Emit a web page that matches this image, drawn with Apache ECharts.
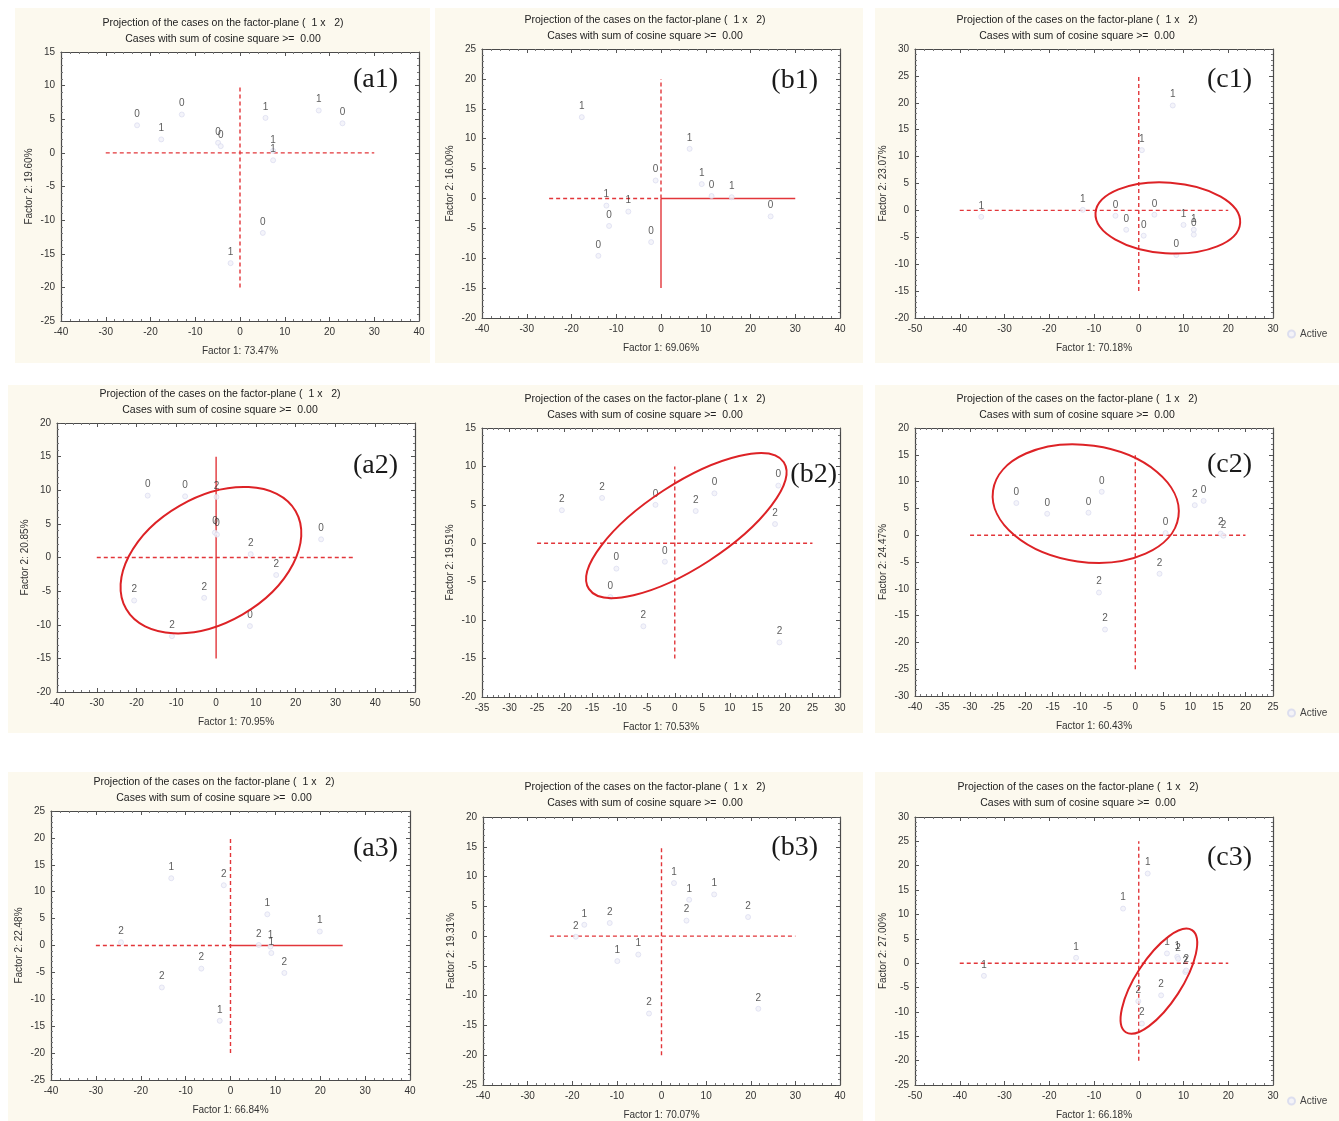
<!DOCTYPE html>
<html><head><meta charset="utf-8">
<script src="https://cdn.jsdelivr.net/npm/echarts@6/dist/echarts.min.js"></script>
<style>html,body{margin:0;padding:0;background:#fff}#c{width:1339px;height:1121px}</style>
</head><body><div id="c"></div><script>
// ---------- DATA (x, y, case label) ----------
const a1Pts = [[-23.0,4.1,'0'],[-17.6,2.0,'1'],[-13.0,5.7,'0'],[-4.9,1.5,'0'],[-4.3,1.0,'0'],[5.7,5.2,'1'],[17.6,6.3,'1'],[22.9,4.4,'0'],[7.4,0.3,'1'],[7.4,-1.1,'1'],[5.1,-11.9,'0'],[-2.1,-16.4,'1']];
const b1Pts = [[-17.7,13.6,'1'],[6.4,8.3,'1'],[-1.2,3.0,'0'],[9.1,2.4,'1'],[11.3,0.4,'0'],[15.8,0.2,'1'],[-12.2,-1.2,'1'],[-7.3,-2.2,'1'],[-11.6,-4.6,'0'],[-2.2,-7.3,'0'],[-14.0,-9.6,'0'],[24.5,-3.0,'0']];
const c1Pts = [[-35.2,-1.2,'1'],[-12.5,0.1,'1'],[-5.2,-1.0,'0'],[-2.8,-3.6,'0'],[1.1,-4.7,'0'],[3.5,-0.8,'0'],[10.0,-2.7,'1'],[12.3,-3.6,'1'],[12.3,-4.5,'0'],[8.4,-8.3,'0'],[7.6,19.5,'1'],[0.7,11.2,'1']];
const a2Pts = [[-17.2,9.2,'0'],[-7.8,9.1,'0'],[0.1,9.0,'2'],[-0.3,3.7,'0'],[0.2,3.4,'0'],[26.4,2.7,'0'],[8.7,0.5,'2'],[15.1,-2.6,'2'],[-20.6,-6.4,'2'],[-3.0,-6.0,'2'],[8.5,-10.2,'0'],[-11.1,-11.7,'2']];
const b2Pts = [[-20.5,4.3,'2'],[-13.2,5.9,'2'],[-3.5,5.0,'0'],[3.8,4.2,'2'],[7.2,6.5,'0'],[18.8,7.5,'0'],[18.2,2.5,'2'],[-1.8,-2.4,'0'],[-10.6,-3.3,'0'],[-11.7,-7.0,'0'],[-5.7,-10.8,'2'],[19.0,-12.9,'2']];
const c2Pts = [[-21.6,6.0,'0'],[-16.0,4.0,'0'],[-8.5,4.2,'0'],[-6.1,8.1,'0'],[5.5,0.4,'0'],[10.8,5.6,'2'],[12.4,6.4,'0'],[15.5,0.3,'2'],[16.0,-0.1,'2'],[4.4,-7.2,'2'],[-6.6,-10.7,'2'],[-5.5,-17.6,'2']];
const a3Pts = [[-13.2,12.5,'1'],[-1.5,11.2,'2'],[8.2,5.8,'1'],[19.9,2.6,'1'],[-24.4,0.6,'2'],[6.3,0.1,'2'],[8.9,-0.2,'1'],[9.1,-1.4,'1'],[-6.5,-4.3,'2'],[12.0,-5.1,'2'],[-15.3,-7.8,'2'],[-2.4,-14.0,'1']];
const b3Pts = [[2.8,8.9,'1'],[11.8,7.0,'1'],[6.2,6.1,'1'],[5.6,2.6,'2'],[19.4,3.2,'2'],[-17.3,1.9,'1'],[-19.2,-0.1,'2'],[-11.6,2.2,'2'],[-9.9,-4.2,'1'],[-5.2,-3.1,'1'],[-2.8,-13.0,'2'],[21.7,-12.2,'2']];
const c3Pts = [[2.0,18.4,'1'],[-3.5,11.2,'1'],[-14.0,1.1,'1'],[-34.6,-2.6,'1'],[6.3,2.0,'1'],[8.6,1.3,'1'],[8.8,0.9,'2'],[10.4,-1.8,'2'],[10.6,-1.5,'2'],[5.0,-6.6,'2'],[-0.1,-7.8,'2'],[0.7,-12.4,'2']];

// axis ranges [min, max, interval]
const a1X = [-40,40,10], a1Y = [-25,15,5];
const b1X = [-40,40,10], b1Y = [-20,25,5];
const c1X = [-50,30,10], c1Y = [-20,30,5];
const a2X = [-40,50,10], a2Y = [-20,20,5];
const b2X = [-35,30,5],  b2Y = [-20,15,5];
const c2X = [-40,25,5],  c2Y = [-30,20,5];
const a3X = [-40,40,10], a3Y = [-25,25,5];
const b3X = [-40,40,10], b3Y = [-25,20,5];
const c3X = [-50,30,10], c3Y = [-25,30,5];

// axis names
const xNames = ['Factor 1: 73.47%','Factor 1: 69.06%','Factor 1: 70.18%','Factor 1: 70.95%','Factor 1: 70.53%','Factor 1: 60.43%','Factor 1: 66.84%','Factor 1: 70.07%','Factor 1: 66.18%'];
const yNames = ['Factor 2: 19.60%','Factor 2: 16.00%','Factor 2: 23.07%','Factor 2: 20.85%','Factor 2: 19.51%','Factor 2: 24.47%','Factor 2: 22.48%','Factor 2: 19.31%','Factor 2: 27.00%'];
const tags = ['(a1)','(b1)','(c1)','(a2)','(b2)','(c2)','(a3)','(b3)','(c3)'];

// reference cross segments [x1,y1,x2,y2]
const a1Dashed = [[-30,0,30,0],[0,-20,0,10]], a1Solid = [];
const b1Dashed = [[-25,0,0,0],[0,0,0,20]], b1Solid = [[0,0,30,0],[0,-15,0,0]];
const c1Dashed = [[-40,0,20,0],[0,-15,0,25]], c1Solid = [];
const a2Dashed = [[-30,0,35,0]], a2Solid = [[0,-15,0,15]];
const b2Dashed = [[-25,0,25,0],[0,-15,0,10]], b2Solid = [];
const c2Dashed = [[-30,0,20,0],[0,-25,0,15]], c2Solid = [];
const a3Dashed = [[-30,0,0,0],[0,-20,0,20]], a3Solid = [[0,0,25,0]];
const b3Dashed = [[-25,0,30,0],[0,-20,0,15]], b3Solid = [];
const c3Dashed = [[-40,0,20,0],[0,-20,0,25]], c3Solid = [];

// ellipses [cx, cy, semi-major, semi-minor (x-axis units), tilt deg]
const a2Ellipse = [-1.3,-0.4,24.6,15.8,30];
const b2Ellipse = [2.1,2.3,21.1,7.6,33];
const c1Ellipse = [6.5,-1.4,16.2,7.9,-4];
const c2Ellipse = [-9.0,5.9,17.0,10.6,-8];
const c3Ellipse = [4.5,-3.7,13.6,5.1,57];

const panels = [
  {pts:a1Pts, xr:a1X, yr:a1Y, dashed:a1Dashed, solid:a1Solid, ell:null, legend:false},
  {pts:b1Pts, xr:b1X, yr:b1Y, dashed:b1Dashed, solid:b1Solid, ell:null, legend:false},
  {pts:c1Pts, xr:c1X, yr:c1Y, dashed:c1Dashed, solid:c1Solid, ell:c1Ellipse, legend:true},
  {pts:a2Pts, xr:a2X, yr:a2Y, dashed:a2Dashed, solid:a2Solid, ell:a2Ellipse, legend:false},
  {pts:b2Pts, xr:b2X, yr:b2Y, dashed:b2Dashed, solid:b2Solid, ell:b2Ellipse, legend:false},
  {pts:c2Pts, xr:c2X, yr:c2Y, dashed:c2Dashed, solid:c2Solid, ell:c2Ellipse, legend:true},
  {pts:a3Pts, xr:a3X, yr:a3Y, dashed:a3Dashed, solid:a3Solid, ell:null, legend:false},
  {pts:b3Pts, xr:b3X, yr:b3Y, dashed:b3Dashed, solid:b3Solid, ell:null, legend:false},
  {pts:c3Pts, xr:c3X, yr:c3Y, dashed:c3Dashed, solid:c3Solid, ell:c3Ellipse, legend:true}
];

// ---------- LAYOUT (pixels) ----------
const layout = [
  {grid:[61,52,358,269],  bg:[15,8,415,355],  title:[223,23],  tag:[398,80],  legendY:336},
  {grid:[482,49,358,269], bg:[435,8,428,355], title:[645,20],  tag:[818,81],  legendY:336},
  {grid:[915,49,358,269], bg:[875,8,464,355], title:[1077,20], tag:[1252,80], legendY:336},
  {grid:[57,423,358,269], bg:[8,385,430,348], title:[220,394], tag:[398,466], legendY:715},
  {grid:[482,428,358,269],bg:[435,385,428,348],title:[645,399],tag:[837,475], legendY:715},
  {grid:[915,428,358,268],bg:[875,385,464,348],title:[1077,399],tag:[1252,465],legendY:715},
  {grid:[51,811,359,269], bg:[8,772,432,349], title:[214,782], tag:[398,849], legendY:1103},
  {grid:[483,817,357,268],bg:[435,772,428,349],title:[645,787], tag:[818,848], legendY:1103},
  {grid:[915,817,358,268],bg:[875,772,464,349],title:[1078,787],tag:[1252,858],legendY:1103}
];

const FONT = '"Liberation Sans", Arial, sans-serif';
const RED = '#e2363a';
const TITLE1 = 'Projection of the cases on the factor-plane (  1 x   2)';
const TITLE2 = 'Cases with sum of cosine square >=  0.00';

const grids = [], xAxes = [], yAxes = [], series = [], graphics = [], legends = [];

function axBase(r, i) {
  return {
    type:'value', gridIndex:i, min:r[0], max:r[1], interval:r[2],
    splitLine:{show:false}, minorSplitLine:{show:false},
    axisLine:{show:true, onZero:false, lineStyle:{color:'#4a4a4a', width:1.2}},
    axisTick:{show:true, inside:true, length:4, lineStyle:{color:'#555'}},
    minorTick:{show:true, splitNumber:5, length:2, lineStyle:{color:'#777'}}
  };
}
const labelStyle = {fontSize:10, color:'#333', fontFamily:FONT, showMinLabel:true, showMaxLabel:true};
const nameStyle = {fontSize:10, color:'#333', fontFamily:FONT};

function ellipseRender(params, api) {
  const c = api.coord([api.value(0), api.value(1)]);
  const ux = api.size([1, 0])[0];
  return {
    type:'ellipse', x:c[0], y:c[1], rotation: api.value(4) * Math.PI / 180,
    shape:{cx:0, cy:0, rx: api.value(2) * ux, ry: api.value(3) * ux},
    style:{fill:null, stroke:'#dd2226', lineWidth:2}
  };
}

panels.forEach((p, i) => {
  const L = layout[i];
  grids.push({left:L.grid[0], top:L.grid[1], width:L.grid[2], height:L.grid[3],
    show:true, backgroundColor:'#ffffff', borderWidth:0, containLabel:false, outerBoundsMode:'none'});
  xAxes.push(Object.assign(axBase(p.xr, i), {position:'bottom', axisLabel:Object.assign({margin:6}, labelStyle),
    name:xNames[i], nameLocation:'middle', nameGap:25, nameTextStyle:nameStyle}));
  xAxes.push(Object.assign(axBase(p.xr, i), {position:'top', axisLabel:{show:false}}));
  yAxes.push(Object.assign(axBase(p.yr, i), {position:'left', axisLabel:Object.assign({margin:6}, labelStyle),
    name:yNames[i], nameLocation:'middle', nameGap:27, nameTextStyle:nameStyle}));
  yAxes.push(Object.assign(axBase(p.yr, i), {position:'right', axisLabel:{show:false}}));
  const xi = 2 * i, yi = 2 * i;

  p.dashed.forEach(s => series.push({type:'line', xAxisIndex:xi, yAxisIndex:yi, data:[[s[0],s[1]],[s[2],s[3]]],
    symbol:'none', silent:true, z:2, lineStyle:{color:RED, width:1.4, type:[4,3]}}));
  p.solid.forEach(s => series.push({type:'line', xAxisIndex:xi, yAxisIndex:yi, data:[[s[0],s[1]],[s[2],s[3]]],
    symbol:'none', silent:true, z:2, lineStyle:{color:RED, width:1.4, type:'solid'}}));

  series.push({type:'scatter', name:'Active', xAxisIndex:xi, yAxisIndex:yi,
    data:p.pts.map(d => [d[0], d[1], d[2]]),
    symbol:'circle', symbolSize:5, z:3,
    itemStyle:{color:'#f1f1f9', borderColor:'#d6d8ee', borderWidth:0.8},
    label:{show:true, position:'top', distance:3, fontSize:10, color:'#333', fontFamily:FONT,
      formatter: q => String(q.data[2])},
    emphasis:{disabled:true}});

  if (p.ell) series.push({type:'custom', xAxisIndex:xi, yAxisIndex:yi, data:[p.ell],
    encode:{x:0, y:1}, renderItem:ellipseRender, silent:true, z:5, clip:false});

  graphics.push({type:'rect', z:-10, silent:true, shape:{x:L.bg[0], y:L.bg[1], width:L.bg[2], height:L.bg[3]},
    style:{fill:'#fcf9ee'}});
  graphics.push({type:'text', x:L.title[0], y:L.title[1], silent:true,
    style:{text:TITLE1, font:'10.5px ' + FONT, fill:'#222', textAlign:'center', textVerticalAlign:'middle', align:'center', verticalAlign:'middle'}});
  graphics.push({type:'text', x:L.title[0], y:L.title[1] + 16, silent:true,
    style:{text:TITLE2, font:'10.5px ' + FONT, fill:'#222', textAlign:'center', textVerticalAlign:'middle', align:'center', verticalAlign:'middle'}});
  graphics.push({type:'text', x:L.tag[0], y:L.tag[1], silent:true, z:10,
    style:{text:tags[i], font:'28px "Liberation Serif", "Times New Roman", serif', fill:'#1a1a1a', textAlign:'right', textVerticalAlign:'middle', align:'right', verticalAlign:'middle'}});

  if (p.legend) legends.push({data:['Active'], left:1287, top:L.legendY - 7, icon:'circle', itemWidth:7, itemHeight:7,
    itemGap:4, selectedMode:false, padding:0, textStyle:{fontSize:10, color:'#444', fontFamily:FONT}});
});

const chart = echarts.init(document.getElementById('c'), null, {renderer:'canvas'});
chart.setOption({
  animation:false,
  backgroundColor:'#ffffff',
  grid:grids, xAxis:xAxes, yAxis:yAxes, series:series, legend:legends,
  graphic:{elements:graphics}
});
</script></body></html>
